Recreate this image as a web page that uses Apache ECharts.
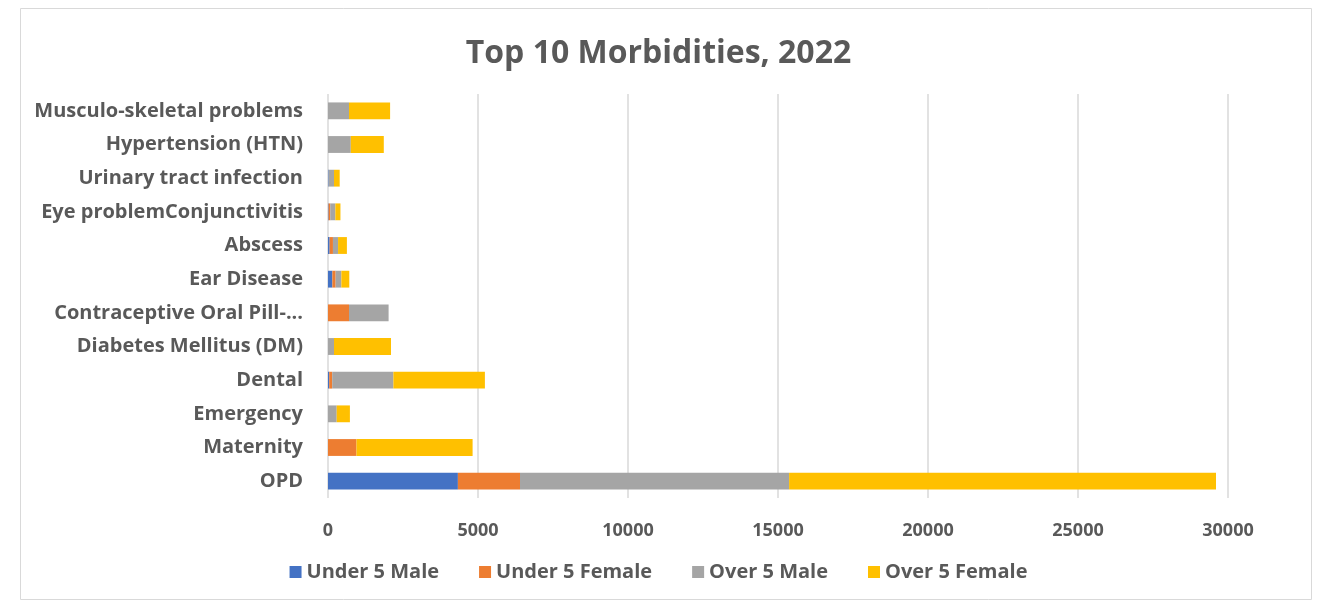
<!DOCTYPE html>
<html>
<head>
<meta charset="utf-8">
<script src="https://cdn.jsdelivr.net/npm/echarts@6/dist/echarts.min.js"></script>
<style>html,body{margin:0;padding:0;background:#fff;}#c{width:1317px;height:607px;}</style>
</head>
<body>
<div id="c"></div>
<script>
const categories = ["OPD","Maternity","Emergency","Dental","Diabetes Mellitus (DM)","Contraceptive Oral Pill-...","Ear Disease","Abscess","Eye problemConjunctivitis","Urinary tract infection","Hypertension (HTN)","Musculo-skeletal problems"];
const seriesNames = ["Under 5 Male","Under 5 Female","Over 5 Male","Over 5 Female"];
const under5Male   = [4330, 0,   0,   40,   0,    0,    145, 55,  20,  20,  0,    0];
const under5Female = [2070, 950, 0,   100,  0,    700,  110, 110, 55,  0,   0,    0];
const over5Male    = [8970, 0,   290, 2040, 200,  1320, 190, 170, 170, 180, 760,  700];
const over5Female  = [14230,3870,440, 3050, 1900, 0,    265, 295, 170, 190, 1100, 1370];
const xTicks = [0,5000,10000,15000,20000,25000,30000];
const colors = ["#4472C4","#ED7D31","#A5A5A5","#FFC000"];
const values = [under5Male, under5Female, over5Male, over5Female];

const FONT = "Open Sans";
const chart = echarts.init(document.getElementById('c'));
chart.setOption({
  animation: false,
  textStyle: {fontFamily: FONT},
  graphic: [{type:'rect', shape:{x:20.5,y:8.5,width:1291,height:591}, style:{fill:'none', stroke:'#d9d9d9', lineWidth:1}}],
  title: {text: "Top 10 Morbidities, 2022", left: 'center', top: 33,
    textStyle: {fontFamily: FONT, fontSize: 32, fontWeight: 'bold', color: '#595959'}},
  legend: {bottom: 20, left: 'center', itemWidth: 12, itemHeight: 12, itemGap: 40, icon: 'rect',
    data: seriesNames,
    textStyle: {fontFamily: FONT, fontSize: 20, color: '#595959', fontWeight: 'bold'}},
  grid: {left: 328, right: 89, top: 94, bottom: 109},
  xAxis: {type: 'value', min: xTicks[0], max: xTicks[xTicks.length-1], interval: 5000,
    axisLine: {show: false}, axisTick: {show: false},
    splitLine: {show: true, lineStyle: {color: '#d9d9d9', width: 1.5}},
    axisLabel: {margin: 24, fontSize: 18, color: '#595959', fontFamily: FONT, fontWeight: 'bold',
      formatter: v => String(v)}},
  yAxis: {type: 'category', data: categories,
    axisLine: {show: false}, axisTick: {show: false},
    axisLabel: {margin: 25, fontSize: 20, color: '#595959', fontFamily: FONT, fontWeight: 'bold'}},
  series: seriesNames.map((n, i) => ({
    name: n, type: 'bar', stack: 'total', data: values[i], barWidth: '50%',
    itemStyle: {color: colors[i]}
  }))
});
</script>
</body>
</html>
